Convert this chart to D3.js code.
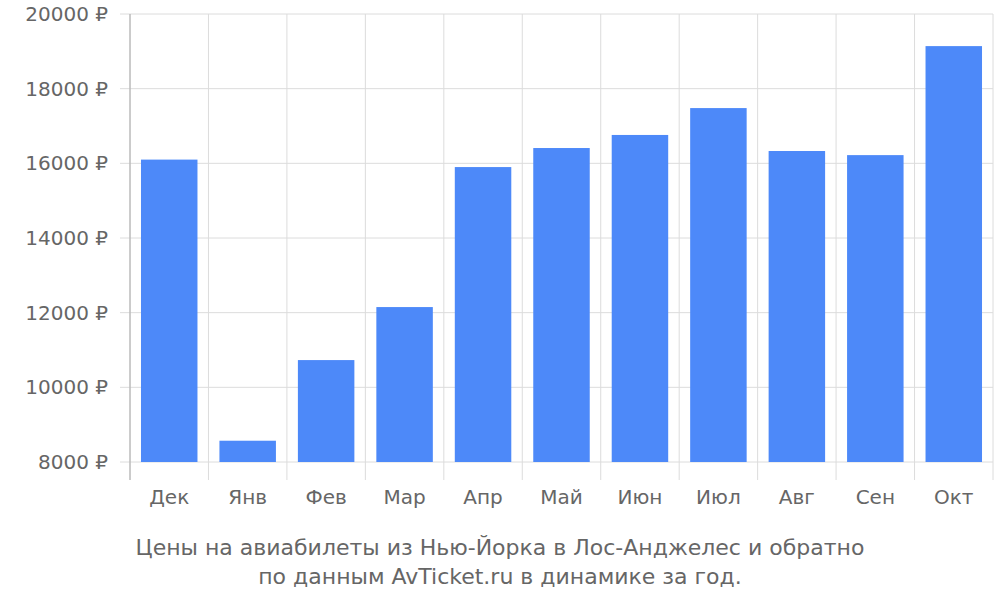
<!DOCTYPE html>
<html><head><meta charset="utf-8">
<script src="https://cdn.jsdelivr.net/npm/d3@7"></script>
<style>body{margin:0;background:#fff}</style></head>
<body><svg id="c" width="1000" height="600"></svg>
<script>
const categories = ["Дек","Янв","Фев","Мар","Апр","Май","Июн","Июл","Авг","Сен","Окт"];
const values = [16100,8570,10730,12150,15900,16410,16760,17480,16330,16220,19140];
const yTicks = [8000,10000,12000,14000,16000,18000,20000];
const titleLines = ["Цены на авиабилеты из Нью-Йорка в Лос-Анджелес и обратно","по данным AvTicket.ru в динамике за год."];

const svg = d3.select("#c");
const L=130,R=993,T=14,B=462;
const x = d3.scaleBand().domain(categories).range([L,R]).paddingInner(0.28).paddingOuter(0.14);
const xb = d3.scaleBand().domain(categories).range([L,R]);
const y = d3.scaleLinear().domain([8000,20000]).range([B,T]);
const font = "DejaVu Sans, sans-serif";

svg.selectAll(".hg").data(yTicks).join("line")
  .attr("x1",120).attr("x2",R).attr("y1",d=>y(d)).attr("y2",d=>y(d))
  .attr("stroke","#dcdcdc").attr("stroke-width",1);
const vb = categories.map(c=>xb(c)).concat([R]);
svg.selectAll(".vg").data(vb).join("line")
  .attr("x1",d=>d).attr("x2",d=>d).attr("y1",T).attr("y2",480)
  .attr("stroke","#dcdcdc");
svg.append("line").attr("x1",L).attr("x2",L).attr("y1",T).attr("y2",480).attr("stroke","#aaa");

svg.selectAll(".bar").data(values).join("rect")
  .attr("x",(d,i)=>x(categories[i])).attr("width",x.bandwidth())
  .attr("y",d=>y(d)).attr("height",d=>B-y(d)).attr("fill","#4d89f9");

svg.selectAll(".yl").data(yTicks).join("text")
  .attr("x",108).attr("y",d=>y(d)+7).attr("text-anchor","end")
  .attr("font-family",font).attr("font-size",20).attr("fill","#666")
  .text(d=>d+" ₽");
svg.selectAll(".xl").data(categories).join("text")
  .attr("x",d=>xb(d)+xb.bandwidth()/2).attr("y",504).attr("text-anchor","middle")
  .attr("font-family",font).attr("font-size",20).attr("fill","#666").text(d=>d);
svg.selectAll(".tt").data(titleLines).join("text")
  .attr("x",500).attr("y",(d,i)=>555+i*29).attr("text-anchor","middle")
  .attr("font-family",font).attr("font-size",22).attr("fill","#666").text(d=>d);
</script></body></html>
